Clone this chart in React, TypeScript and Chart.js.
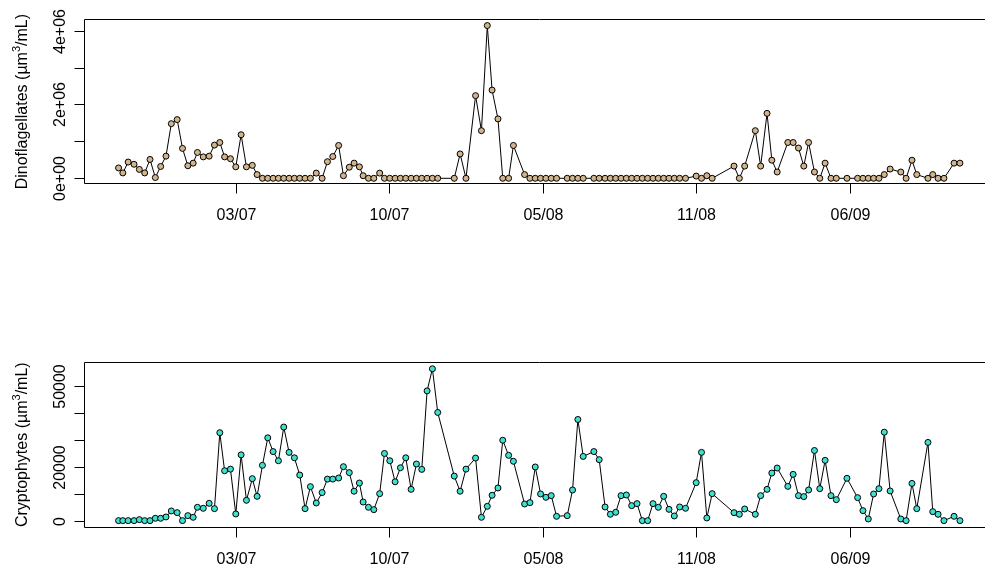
import React, { useEffect, useRef } from "react";
import { Chart, registerables } from "chart.js";

Chart.register(...registerables);

const FONT = '"Liberation Sans", Arial, Helvetica, sans-serif';

// Sampling time, in weeks from the first sample
const weeks = [
  0.0, 0.8, 1.8, 2.9, 3.9, 4.9, 5.9, 6.9, 7.9, 8.9,
  9.9, 11.0, 12.0, 13.0, 14.0, 14.8, 15.9, 17.0, 18.0, 19.0,
  19.9, 21.0, 22.0, 23.0, 24.0, 25.1, 26.0, 27.0, 28.0, 29.0,
  30.0, 31.0, 32.0, 33.0, 34.0, 35.0, 36.0, 37.1, 38.2, 39.2,
  40.2, 41.3, 42.2, 43.3, 44.2, 45.2, 45.9, 46.9, 47.9, 49.0,
  49.9, 50.9, 51.9, 52.9, 53.9, 54.9, 55.9, 56.9, 57.9, 58.9,
  59.9, 63.0, 64.1, 65.2, 67.0, 68.1, 69.2, 70.1, 71.2, 72.1,
  73.2, 74.1, 76.2, 77.2, 78.2, 79.2, 80.2, 81.2, 82.2, 84.2,
  85.2, 86.2, 87.2, 89.2, 90.2, 91.3, 92.3, 93.3, 94.3, 95.3,
  96.3, 97.3, 98.3, 99.3, 100.3, 101.3, 102.3, 103.3, 104.3, 105.3,
  106.4, 108.4, 109.4, 110.4, 111.4, 115.5, 116.5, 117.5, 119.5, 120.5,
  121.7, 122.6, 123.6, 125.6, 126.6, 127.6, 128.6, 129.5,
  130.6, 131.6, 132.6, 133.7, 134.7, 136.7, 138.7, 139.7, 140.7, 141.7,
  142.7, 143.7, 144.8, 146.8, 147.8, 148.9, 149.8, 151.9, 152.8, 153.8,
  154.9, 156.8, 157.9,
];

// Dinoflagellates biovolume (µm³/mL)
const dinoflagellates = [
  280000, 145000, 440000, 380000, 240000, 145000, 510000, 20000, 320000, 600000,
  1480000, 1590000, 810000, 340000, 410000, 700000, 580000, 600000, 900000, 970000,
  580000, 530000, 310000, 1180000, 310000, 350000, 100000, 0, 0, 0,
  0, 0, 0, 0, 0, 0, 0, 140000, 0, 450000,
  590000, 890000, 70000, 300000, 410000, 310000, 70000, 0, 0, 140000,
  0, 0, 0, 0, 0, 0, 0, 0, 0, 0,
  0, 0, 660000, 0, 2240000, 1290000, 4140000, 2390000, 1610000, 0,
  0, 890000, 100000, 0, 0, 0, 0, 0, 0, 0,
  0, 0, 0, 0, 0, 0, 0, 0, 0, 0,
  0, 0, 0, 0, 0, 0, 0, 0, 0, 0,
  0, 60000, 0, 70000, 0, 330000, 0, 330000, 1290000, 330000,
  1760000, 490000, 170000, 970000, 970000, 820000, 330000, 970000,
  170000, 0, 410000, 0, 0, 0, 0, 0, 0, 0,
  0, 100000, 250000, 170000, 0, 490000, 100000, 0, 100000, 0,
  0, 410000, 410000,
];

// Cryptophytes biovolume (µm³/mL)
const cryptophytes = [
  0, 0, 0, 0, 370, 0, 0, 860, 860, 1360,
  3580, 2960, 0, 1850, 1230, 4940, 4570, 6420, 4440, 32600,
  18500, 19100, 2470, 24400, 7530, 15560, 9010, 20500, 30700, 25600,
  22200, 34700, 25300, 23300, 16900, 4440, 12600, 6540, 10400, 15400,
  15400, 15800, 20000, 17800, 10900, 13950, 6900, 4940, 4070, 10000,
  24900, 22200, 14400, 19600, 23300, 11600, 21000, 19000, 48100, 56300,
  40100, 16500, 10900, 19100, 23200, 1230, 5300, 9400, 12100, 29800,
  24200, 22000, 6170, 6670, 19900, 9900, 8640, 9260, 1600, 1850,
  11360, 37500, 23800, 25600, 22600, 5060, 2350, 3090, 9260, 9500,
  5560, 6300, 0, 0, 6300, 4940, 9010, 4200, 1730, 5060,
  4570, 14070, 25300, 990, 10000, 2960, 2350, 4320, 2350, 9260,
  11600, 17650, 19500, 12700, 17160, 9260, 8900, 11360,
  26000, 11850, 22350, 9260, 7780, 15700, 8520, 3700, 620, 9880,
  11850, 32800, 11000, 620, 0, 13800, 4440, 29000, 3330, 2350,
  0, 1600, 0,
];

const xTickPositions = [22.0, 50.8, 79.6, 108.4, 137.2];
const xTickLabels = ["03/07", "10/07", "05/08", "11/08", "06/09"];

const dinoTicks = [0, 1000000, 2000000, 3000000, 4000000];
const dinoTickLabels = ["0e+00", "", "2e+06", "", "4e+06"];

const cryptoTicks = [0, 10000, 20000, 30000, 40000, 50000];
const cryptoTickLabels = ["0", "", "20000", "", "", "50000"];

const rAxesPlugin = {
  id: "rAxes",
  afterDraw(chart: any, _args: any, o: any) {
    const { ctx, chartArea: a, scales } = chart;
    const xs = scales.x;
    const ys = scales.y;
    const L = Math.round(a.left) - 0.5;
    const R = Math.round(a.right) + 0.5;
    const T = Math.round(a.top) - 0.5;
    const B = Math.round(a.bottom) + 0.5;
    ctx.save();
    ctx.strokeStyle = "#000";
    ctx.fillStyle = "#000";
    ctx.lineWidth = 1;
    ctx.beginPath();
    ctx.rect(L, T, R - L, B - T);
    ctx.stroke();

    ctx.font = `16px ${FONT}`;
    // x ticks
    xTickPositions.forEach((v, i) => {
      const x = Math.round(xs.getPixelForValue(v)) + 0.5;
      ctx.beginPath();
      ctx.moveTo(x, B);
      ctx.lineTo(x, B + 10);
      ctx.stroke();
      ctx.textAlign = "center";
      ctx.textBaseline = "alphabetic";
      ctx.fillText(xTickLabels[i], x, B + 36);
    });
    // y ticks
    const yt: number[] = o.ticks;
    const yl: string[] = o.labels;
    ctx.beginPath();
    ctx.moveTo(L, Math.round(ys.getPixelForValue(yt[0])) + 0.5);
    ctx.lineTo(L, Math.round(ys.getPixelForValue(yt[yt.length - 1])) + 0.5);
    ctx.stroke();
    yt.forEach((v, i) => {
      const y = Math.round(ys.getPixelForValue(v)) + 0.5;
      ctx.beginPath();
      ctx.moveTo(L - 10, y);
      ctx.lineTo(L, y);
      ctx.stroke();
      if (yl[i]) {
        ctx.save();
        ctx.translate(L - 20, y);
        ctx.rotate(-Math.PI / 2);
        ctx.textAlign = "center";
        ctx.textBaseline = "alphabetic";
        ctx.fillText(yl[i], 0, 0);
        ctx.restore();
      }
    });
    // axis title with superscript
    const parts: [string, number, number][] = [
      [o.title, 16, 0],
      ["3", 11, -7],
      ["/mL)", 16, 0],
    ];
    let total = 0;
    parts.forEach(([t, s]) => {
      ctx.font = `${s}px ${FONT}`;
      total += ctx.measureText(t).width;
    });
    ctx.save();
    ctx.translate(L - 58, (a.top + a.bottom) / 2);
    ctx.rotate(-Math.PI / 2);
    ctx.textAlign = "left";
    ctx.textBaseline = "alphabetic";
    let cx = -total / 2;
    parts.forEach(([t, s, dy]) => {
      ctx.font = `${s}px ${FONT}`;
      ctx.fillText(t, cx, dy);
      cx += ctx.measureText(t).width;
    });
    ctx.restore();
    ctx.restore();
  },
};

function makeConfig(
  values: number[],
  fill: string,
  yMin: number,
  yMax: number,
  padTop: number,
  padBottom: number,
  ticks: number[],
  labels: string[],
  title: string
): any {
  return {
    type: "line",
    data: {
      datasets: [
        {
          data: weeks.map((w, i) => ({ x: w, y: values[i] })),
          borderColor: "#000",
          borderWidth: 1,
          pointRadius: 3,
          pointHoverRadius: 3,
          pointBackgroundColor: fill,
          pointBorderColor: "#000",
          pointBorderWidth: 1,
          fill: false,
          tension: 0,
          clip: false,
        },
      ],
    },
    options: {
      responsive: false,
      animation: false,
      devicePixelRatio: 1,
      events: [],
      layout: { padding: { left: 85, right: 6.5, top: padTop, bottom: padBottom } },
      scales: {
        x: { type: "linear", min: -6.3, max: 164.2, display: false },
        y: { type: "linear", min: yMin, max: yMax, display: false },
      },
      plugins: {
        legend: { display: false },
        tooltip: { enabled: false },
        rAxes: { ticks, labels, title },
      },
    },
    plugins: [rAxesPlugin],
  };
}

export default function App() {
  const topRef = useRef<HTMLCanvasElement>(null);
  const botRef = useRef<HTMLCanvasElement>(null);

  useEffect(() => {
    const c1 = new Chart(
      topRef.current as HTMLCanvasElement,
      makeConfig(dinoflagellates, "#D2B48C", -136000, 4290000, 20, 100.7, dinoTicks, dinoTickLabels, "Dinoflagellates (µm")
    );
    const c2 = new Chart(
      botRef.current as HTMLCanvasElement,
      makeConfig(cryptophytes, "#40E0D0", -2250, 58550, 78.7, 42.3, cryptoTicks, cryptoTickLabels, "Cryptophytes (µm")
    );
    return () => {
      c1.destroy();
      c2.destroy();
    };
  }, []);

  return (
    <div
      style={{
        position: "fixed",
        left: 0,
        top: 0,
        width: 985,
        height: 569,
        overflow: "hidden",
        background: "#fff",
      }}
    >
      <canvas
        ref={topRef}
        width={1000}
        height={284}
        style={{ position: "absolute", left: 0, top: 0, width: 1000, height: 284 }}
      />
      <canvas
        ref={botRef}
        width={1000}
        height={285}
        style={{ position: "absolute", left: 0, top: 284, width: 1000, height: 285 }}
      />
    </div>
  );
}
